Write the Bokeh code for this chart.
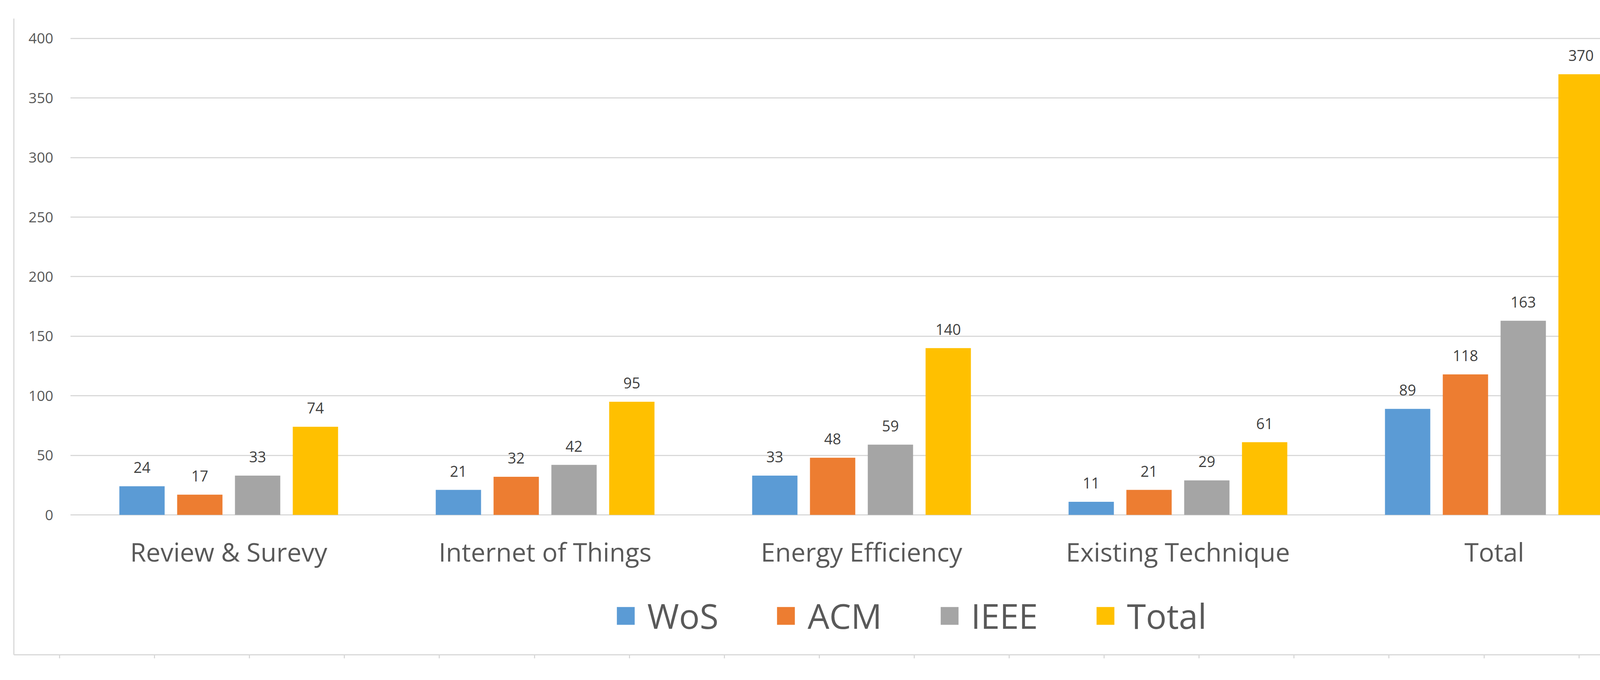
from bokeh.plotting import figure
from bokeh.models import (ColumnDataSource, Range1d, LinearAxis, FixedTicker,
                          SingleIntervalTicker, LabelSet, Legend, LegendItem,
                          CustomJSTickFormatter)
from bokeh.transform import dodge
from bokeh.core.properties import value
from bokeh.embed import file_html
from bokeh.resources import INLINE

# ---------------- data ----------------
categories = ["Review & Surevy", "Internet of Things", "Energy Efficiency",
              "Existing Technique", "Total"]
series_names = ["WoS", "ACM", "IEEE", "Total"]
wos = [24, 21, 33, 11, 89]
acm = [17, 32, 48, 21, 118]
ieee = [33, 42, 59, 29, 163]
total = [74, 95, 140, 61, 370]
y_ticks = [0, 50, 100, 150, 200, 250, 300, 350, 400]

# ---------------- style ----------------
colors = ["#5B9BD5", "#ED7D31", "#A5A5A5", "#FFC000"]
FONT = "Open Sans"
TEXT = "#595959"
LABEL = "#404040"
LINE = "#D9D9D9"
BAR_W = 0.1432
BAR_STEP = 0.1827

idx = list(range(len(categories)))
data = dict(idx=idx, cat=categories)
for name, vals in zip(series_names, [wos, acm, ieee, total]):
    data[name] = vals
    data[name + "_txt"] = [str(v) for v in vals]
src = ColumnDataSource(data)

p = figure(frame_width=4257, frame_height=1628,
           x_range=Range1d(-0.67901, 4.57654),
           y_range=Range1d(-117.47, 416.73),
           x_axis_location=None, y_axis_location=None,
           toolbar_location=None, output_backend="svg",
           min_border_left=35, min_border_top=47,
           min_border_right=30, min_border_bottom=20,
           background_fill_color="white", border_fill_color="white")
p.outline_line_color = None
p.xgrid.visible = False

grid = p.ygrid[0]
grid.ticker = FixedTicker(ticks=y_ticks)
grid.grid_line_color = LINE
grid.grid_line_width = 3
if "cross_bounds" in grid.properties():
    grid.cross_bounds = (-0.5, 4.5)
else:
    grid.visible = False
    p.segment(x0=[-0.5] * len(y_ticks), x1=[4.5] * len(y_ticks),
              y0=y_ticks, y1=y_ticks, line_color=LINE, line_width=3)

# ---------------- bars ----------------
items = []
for i, (name, col) in enumerate(zip(series_names, colors)):
    off = (i - 1.5) * BAR_STEP
    r = p.vbar(x=dodge("idx", off), top=name, width=BAR_W, bottom=0,
               source=src, fill_color=col, line_color=None)
    items.append(LegendItem(label=name, renderers=[r]))
    labels = LabelSet(x=dodge("idx", off), y=name, text=name + "_txt",
                      source=src, text_align="center",
                      text_baseline="alphabetic", y_offset=34,
                      text_font=value(FONT), text_font_size="38px",
                      text_color=LABEL)
    p.add_layout(labels)

# ---------------- value axis (inside the frame) ----------------
yax = LinearAxis(fixed_location=-0.5543, ticker=FixedTicker(ticks=y_ticks),
                 axis_line_color=None, major_tick_line_color=None,
                 minor_tick_line_color=None, major_tick_out=0, major_tick_in=0,
                 major_label_standoff=0, major_label_text_font=FONT,
                 major_label_text_font_size="37px",
                 major_label_text_color=TEXT)
p.add_layout(yax, "left")

# ---------------- category axis ----------------
xax = LinearAxis(fixed_location=0, ticker=FixedTicker(ticks=idx),
                 major_label_overrides={i: c for i, c in zip(idx, categories)},
                 axis_line_color=None, major_tick_line_color=None,
                 minor_tick_line_color=None, major_tick_out=0, major_tick_in=0,
                 major_label_standoff=48, major_label_text_font=FONT,
                 major_label_text_font_size="66px",
                 major_label_text_color=TEXT)
p.add_layout(xax, "below")

# ---------------- outer frame with tick marks ----------------
p.extra_x_ranges = {"b": Range1d(-0.4813, 17.030)}
p.extra_y_ranges = {"r": Range1d(-0.1234, 22.193)}
blank = CustomJSTickFormatter(code="return ''")

left_border = LinearAxis(ticker=FixedTicker(ticks=[]), axis_line_color=LINE,
                         axis_line_width=3, major_tick_line_color=None,
                         minor_tick_line_color=None, formatter=blank)
p.add_layout(left_border, "left")

bottom_border = LinearAxis(x_range_name="b",
                           ticker=SingleIntervalTicker(interval=1, num_minor_ticks=0),
                           axis_line_color=LINE, axis_line_width=3,
                           major_tick_line_color=LINE, major_tick_line_width=3,
                           major_tick_out=9, major_tick_in=0,
                           minor_tick_line_color=None,
                           formatter=CustomJSTickFormatter(code="return ''"),
                           major_label_standoff=0)
p.add_layout(bottom_border, "below")

right_border = LinearAxis(y_range_name="r",
                          ticker=SingleIntervalTicker(interval=1, num_minor_ticks=0),
                          axis_line_color=LINE, axis_line_width=3,
                          major_tick_line_color=LINE, major_tick_line_width=3,
                          major_tick_out=14, major_tick_in=0,
                          minor_tick_line_color=None,
                          formatter=CustomJSTickFormatter(code="return ''"),
                          major_label_standoff=0)
p.add_layout(right_border, "right")

# ---------------- legend ----------------
legend = Legend(items=items, location=(1538, 40), orientation="horizontal",
                glyph_width=57, glyph_height=57, label_standoff=27,
                spacing=144, padding=0, margin=0,
                border_line_color=None, background_fill_alpha=0,
                label_text_font=FONT, label_text_font_size="88px",
                label_text_color=TEXT)
p.add_layout(legend)

open("out.html", "w").write(file_html(p, INLINE))
